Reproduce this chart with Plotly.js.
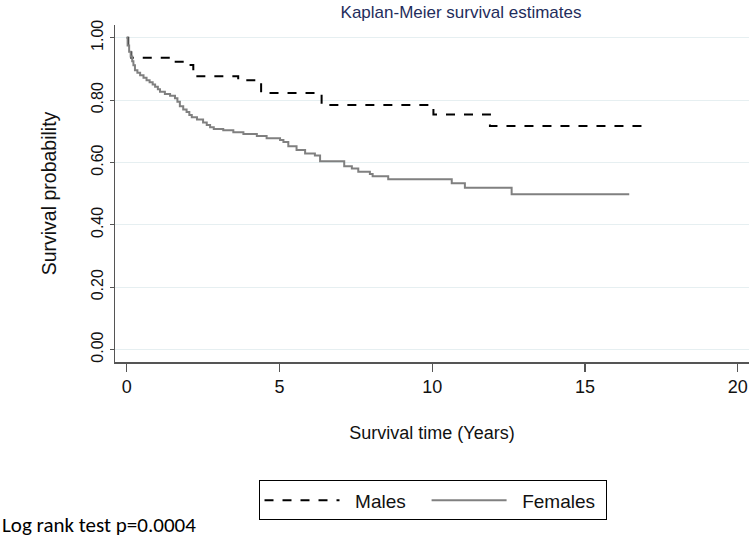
<!DOCTYPE html>
<html>
<head>
<meta charset="utf-8">
<script src="https://cdn.plot.ly/plotly-3.0.1.min.js"></script>
<style>html,body{margin:0;padding:0;background:#fff;}#chart{width:749px;height:541px;}</style>
</head>
<body>
<div id="chart"></div>
<script>
// Kaplan-Meier step data (time in years, survival probability after each step)
var maleTime = [0, 0.05, 0.15, 1.47, 1.90, 2.18, 3.65, 4.40, 6.38, 10.04, 11.89, 16.91];
var maleSurv = [1.0, 0.968, 0.936, 0.923, 0.913, 0.877, 0.864, 0.823, 0.784, 0.754, 0.717, 0.717];

var femaleTime = [0, 0.03, 0.08, 0.13, 0.18, 0.22, 0.27, 0.35, 0.44, 0.55, 0.65, 0.75, 0.85, 0.93,
  1.02, 1.09, 1.25, 1.42, 1.58, 1.66, 1.74, 1.85, 1.96, 2.05, 2.13, 2.30, 2.50, 2.62, 2.73, 2.85,
  3.16, 3.49, 3.82, 4.26, 4.58, 5.02, 5.13, 5.29, 5.56, 5.84, 6.16, 6.33, 7.12, 7.37, 7.58, 7.96,
  8.05, 8.56, 10.64, 11.07, 12.60, 16.45];
var femaleSurv = [1.0, 0.975, 0.955, 0.940, 0.925, 0.912, 0.896, 0.888, 0.880, 0.872, 0.864, 0.857, 0.850, 0.843,
  0.835, 0.827, 0.820, 0.814, 0.806, 0.795, 0.780, 0.770, 0.762, 0.752, 0.745, 0.738, 0.728, 0.720, 0.713, 0.707,
  0.703, 0.697, 0.691, 0.685, 0.678, 0.672, 0.666, 0.652, 0.640, 0.629, 0.622, 0.604, 0.588, 0.581, 0.570, 0.563,
  0.556, 0.546, 0.533, 0.519, 0.498, 0.498];

var seriesNames = ["Males", "Females"];
var xTicks = [0, 5, 10, 15, 20];
var yTicks = [0, 0.2, 0.4, 0.6, 0.8, 1.0];
var yTickText = ["0.00", "0.20", "0.40", "0.60", "0.80", "1.00"];

var font = "Liberation Sans, Arial, sans-serif";
var NB = "\u00a0";

var traces = [
  {x: maleTime, y: maleSurv, name: NB + NB + seriesNames[0] + NB + NB + NB, type: "scatter", mode: "lines",
   line: {shape: "hv", color: "#000000", width: 2, dash: "dash"}},
  {x: femaleTime, y: femaleSurv, name: NB + NB + seriesNames[1] + NB, type: "scatter", mode: "lines",
   line: {shape: "hv", color: "#808080", width: 2}}
];

var layout = {
  width: 749, height: 541,
  paper_bgcolor: "#ffffff", plot_bgcolor: "#ffffff",
  margin: {l: 115, r: 0, t: 25, b: 179.3, pad: 0},
  font: {family: font, color: "#111111"},
  title: {text: "Kaplan-Meier survival estimates", x: 0.6155, xanchor: "center", xref: "container",
          y: 1 - 12/541, yanchor: "middle", yref: "container",
          font: {family: font, size: 17, color: "#1f2d5c"}},
  xaxis: {range: [-0.383, 20.37], tickvals: xTicks, ticks: "outside", ticklen: 8, tickwidth: 1.2,
          tickcolor: "#555555", showline: true, linecolor: "#555555", linewidth: 1.5,
          showgrid: false, zeroline: false, tickfont: {size: 18, color: "#111111"},
          title: {text: "Survival time (Years)", font: {size: 18, color: "#111111"}, standoff: 30}},
  yaxis: {range: [-0.04, 1.041], tickvals: yTicks, ticktext: yTickText, tickangle: -90,
          ticks: "outside", ticklen: 4, tickwidth: 1.2, tickcolor: "#555555",
          showline: true, linecolor: "#555555", linewidth: 1.5,
          showgrid: true, gridcolor: "#e6eff1", gridwidth: 1.2, zeroline: false,
          tickfont: {size: 16, color: "#111111"},
          title: {text: "Survival probability", font: {size: 19.5, color: "#111111"}, standoff: 27}},
  showlegend: true,
  legend: {orientation: "h", x: 0.5008, xanchor: "center", y: -0.351, yanchor: "top",
           bordercolor: "#000000", borderwidth: 1, bgcolor: "#ffffff",
           itemwidth: 75, font: {size: 19, color: "#111111"}, traceorder: "normal"},
  annotations: [
    {text: "Log rank test p=0.0004", xref: "paper", yref: "paper",
     x: -115/634, xanchor: "left", y: (361.7 - 525) / 336.7, yanchor: "middle",
     showarrow: false, font: {family: "Carlito, Lato, sans-serif", size: 21, color: "#000000"}}
  ]
};

Plotly.newPlot("chart", traces, layout, {displayModeBar: false, staticPlot: true});
</script>
</body>
</html>
